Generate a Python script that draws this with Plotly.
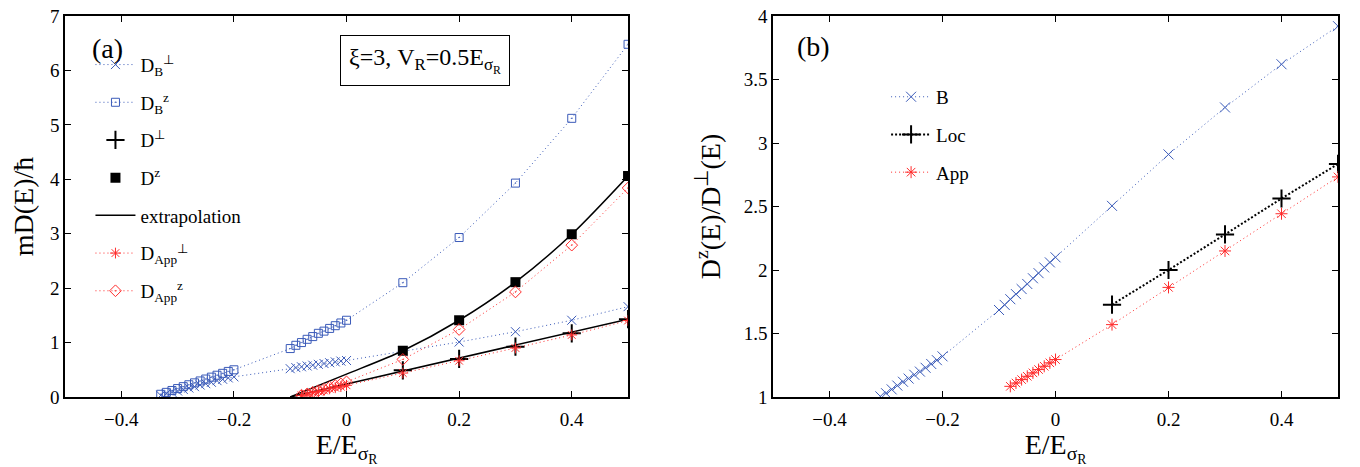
import plotly.graph_objects as go

# ---------------- data: panel (a) ----------------
E_B_left = [-0.33, -0.32, -0.31, -0.30, -0.29, -0.28, -0.27, -0.26, -0.25, -0.24, -0.23, -0.22, -0.21, -0.20]
E_B_mid = [-0.10, -0.09, -0.08, -0.07, -0.06, -0.05, -0.04, -0.03, -0.02, -0.01, 0.00]
E_coarse = [0.1, 0.2, 0.3, 0.4, 0.5]
E_B = E_B_left + E_B_mid + E_coarse

DB_perp = [0.03, 0.06, 0.085, 0.11, 0.14, 0.165, 0.19, 0.22, 0.245, 0.27, 0.30, 0.325, 0.35, 0.37,
           0.52, 0.54, 0.555, 0.57, 0.585, 0.60, 0.615, 0.63, 0.645, 0.66, 0.67,
           0.84, 1.01, 1.20, 1.41, 1.66]
DB_z = [0.05, 0.085, 0.12, 0.155, 0.19, 0.225, 0.26, 0.295, 0.33, 0.365, 0.40, 0.435, 0.47, 0.50,
        0.89, 0.95, 1.00, 1.06, 1.11, 1.17, 1.21, 1.26, 1.31, 1.36, 1.41,
        2.10, 2.93, 3.93, 5.12, 6.48]

D_perp = [0.49, 0.70, 0.925, 1.17, 1.43]
D_z = [0.85, 1.41, 2.11, 2.99, 4.06]

E_extrap = [-0.10, 0.0, 0.1, 0.2, 0.3, 0.4, 0.5]
extrap_z = [0.0, 0.42, 0.85, 1.41, 2.11, 2.99, 4.06]
extrap_perp = [0.0, 0.24, 0.48, 0.715, 0.95, 1.19, 1.43]

E_App_fine = [-0.08, -0.07, -0.06, -0.05, -0.04, -0.03, -0.02, -0.01, 0.00]
E_App = E_App_fine + E_coarse
DApp_perp = [0.03, 0.05, 0.08, 0.10, 0.12, 0.15, 0.17, 0.19, 0.215,
             0.44, 0.666, 0.90, 1.14, 1.405]
DApp_z = [0.033, 0.056, 0.087, 0.116, 0.143, 0.182, 0.211, 0.241, 0.278,
          0.69, 1.24, 1.93, 2.79, 3.84]

# ---------------- data: panel (b) ----------------
E_ratioB = [-0.31, -0.30, -0.29, -0.28, -0.27, -0.26, -0.25, -0.24, -0.23, -0.22, -0.21, -0.20,
            -0.10, -0.09, -0.08, -0.07, -0.06, -0.05, -0.04, -0.03, -0.02, -0.01, 0.00,
            0.1, 0.2, 0.3, 0.4, 0.5]
ratio_B = [1.005, 1.03, 1.06, 1.09, 1.12, 1.145, 1.175, 1.20, 1.23, 1.26, 1.29, 1.32,
           1.685, 1.725, 1.77, 1.81, 1.85, 1.89, 1.935, 1.975, 2.02, 2.06, 2.10,
           2.505, 2.91, 3.28, 3.62, 3.92]
ratio_Loc = [1.727, 2.00, 2.28, 2.563, 2.835]
ratio_App = [1.084, 1.11, 1.137, 1.163, 1.19, 1.216, 1.242, 1.269, 1.295,
             1.57, 1.863, 2.15, 2.443, 2.733]

x_ticks = [-0.4, -0.2, 0, 0.2, 0.4]
x_ticklabels = ["\u22120.4", "\u22120.2", "0", "0.2", "0.4"]
ya_ticks = [0, 1, 2, 3, 4, 5, 6, 7]
yb_ticks = [1, 1.5, 2, 2.5, 3, 3.5, 4]

BLUE = "#3b5bb9"
RED = "#ff2b2b"
FONT = "Liberation Serif, Times New Roman, serif"
DOT = "1px,3px"

fig = go.Figure()

# panel (a)
fig.add_trace(go.Scatter(x=E_B, y=DB_perp, mode="lines+markers", name="D<sub>B</sub><sup>\u22a5</sup>",
                         line=dict(color=BLUE, width=1, dash=DOT),
                         marker=dict(symbol="x-thin-open", size=9, color=BLUE, line=dict(width=1, color=BLUE)),
                         legend="legend", legendgroup="a1"))
fig.add_trace(go.Scatter(x=E_B, y=DB_z, mode="lines+markers", name="D<sub>B</sub><sup>z</sup>",
                         line=dict(color=BLUE, width=1, dash=DOT),
                         marker=dict(symbol="square-open-dot", size=8, color=BLUE, line=dict(width=1, color=BLUE)),
                         legend="legend", legendgroup="a2"))
fig.add_trace(go.Scatter(x=E_coarse, y=D_perp, mode="markers", name="D<sup>\u22a5</sup>",
                         marker=dict(symbol="cross-thin-open", size=13, color="black", line=dict(width=2, color="black")),
                         legend="legend", legendgroup="a3"))
fig.add_trace(go.Scatter(x=E_coarse, y=D_z, mode="markers", name="D<sup>z</sup>",
                         marker=dict(symbol="square", size=10, color="black"),
                         legend="legend", legendgroup="a4"))
fig.add_trace(go.Scatter(x=E_extrap, y=extrap_z, mode="lines", name="extrapolation",
                         line=dict(color="black", width=1.5, shape="spline", smoothing=0.8),
                         legend="legend", legendgroup="a5"))
fig.add_trace(go.Scatter(x=E_extrap, y=extrap_perp, mode="lines", name="extrapolation",
                         line=dict(color="black", width=1.5), showlegend=False,
                         legend="legend", legendgroup="a5"))
fig.add_trace(go.Scatter(x=E_App, y=DApp_perp, mode="lines+markers", name="D<sub>App</sub><sup>\u22a5</sup>",
                         line=dict(color=RED, width=1, dash=DOT),
                         marker=dict(symbol="asterisk-open", size=9, color=RED, line=dict(width=1, color=RED)),
                         legend="legend", legendgroup="a6"))
fig.add_trace(go.Scatter(x=E_App, y=DApp_z, mode="lines+markers", name="D<sub>App</sub><sup>z</sup>",
                         line=dict(color=RED, width=1, dash=DOT),
                         marker=dict(symbol="diamond-open-dot", size=9, color=RED, line=dict(width=1, color=RED)),
                         legend="legend", legendgroup="a7"))

# panel (b)
fig.add_trace(go.Scatter(x=E_ratioB, y=ratio_B, mode="lines+markers", name="B",
                         line=dict(color=BLUE, width=1, dash=DOT),
                         marker=dict(symbol="x-thin-open", size=10, color=BLUE, line=dict(width=1, color=BLUE)),
                         xaxis="x2", yaxis="y2", legend="legend2", legendgroup="b1"))
fig.add_trace(go.Scatter(x=E_coarse, y=ratio_Loc, mode="lines+markers", name="Loc",
                         line=dict(color="black", width=2, dash="2px,2px"),
                         marker=dict(symbol="cross-thin-open", size=13, color="black", line=dict(width=2, color="black")),
                         xaxis="x2", yaxis="y2", legend="legend2", legendgroup="b2"))
fig.add_trace(go.Scatter(x=E_App_fine + E_coarse, y=ratio_App, mode="lines+markers", name="App",
                         line=dict(color=RED, width=1, dash=DOT),
                         marker=dict(symbol="asterisk-open", size=10, color=RED, line=dict(width=1, color=RED)),
                         xaxis="x2", yaxis="y2", legend="legend2", legendgroup="b3"))

axis_common = dict(showline=True, linecolor="black", linewidth=1.5, mirror="allticks",
                   ticks="inside", ticklen=6, tickwidth=1, tickcolor="black",
                   showgrid=False, zeroline=False, automargin=False,
                   ticklabeloverflow="allow",
                   tickfont=dict(family=FONT, size=19, color="black"))

xtitle = dict(text="E/E<sub>\u03c3<sub>R</sub></sub>", font=dict(family=FONT, size=28, color="black"))

# page body has an 8px default margin: the figure is sized so that the plot sits where the reference's does
fig.update_layout(
    width=1352, height=459,
    margin=dict(l=57, r=22, t=8, b=70, autoexpand=False),
    paper_bgcolor="white", plot_bgcolor="white",
    font=dict(family=FONT, color="black"),
    xaxis=dict(domain=[0, 0.4423], range=[-0.5, 0.5], tickvals=x_ticks, ticktext=x_ticklabels,
               title=xtitle, anchor="y", ticklabelstandoff=4, **axis_common),
    yaxis=dict(range=[0, 7], tickvals=ya_ticks, anchor="x",
               title=dict(text="mD(E)/\u0127", font=dict(family=FONT, size=28, color="black")),
               **axis_common),
    xaxis2=dict(domain=[0.5562, 1], range=[-0.5, 0.5], tickvals=x_ticks, ticktext=x_ticklabels,
                title=xtitle, anchor="y2", ticklabelstandoff=4, **axis_common),
    yaxis2=dict(range=[1, 4], tickvals=yb_ticks, anchor="x2",
                title=dict(text="D<sup>z</sup>(E)/D<sup>\u22a5</sup>(E)", font=dict(family=FONT, size=28, color="black")),
                **axis_common),
    legend=dict(x=0.02, y=0.922, xanchor="left", yanchor="top", bgcolor="rgba(0,0,0,0)",
                font=dict(family=FONT, size=19, color="black"), traceorder="grouped",
                tracegroupgap=10, itemwidth=40),
    legend2=dict(x=0.645, y=0.8375, xanchor="left", yanchor="top", bgcolor="rgba(0,0,0,0)",
                 font=dict(family=FONT, size=19, color="black"), traceorder="grouped",
                 tracegroupgap=10, itemwidth=40),
    showlegend=True,
)

fig.add_annotation(text="(a)", xref="paper", yref="paper", x=0.033, y=0.916, showarrow=False,
                   xanchor="center", yanchor="middle", font=dict(family=FONT, size=28, color="black"))
fig.add_annotation(text="(b)", xref="paper", yref="paper", x=0.588, y=0.919, showarrow=False,
                   xanchor="center", yanchor="middle", font=dict(family=FONT, size=28, color="black"))
fig.add_annotation(text="\u03be=3, V<sub>R</sub>=0.5E<sub>\u03c3<sub>R</sub></sub>", xref="paper", yref="paper",
                   x=0.2828, y=0.882, showarrow=False, xanchor="center", yanchor="middle",
                   font=dict(family=FONT, size=24, color="black"),
                   bordercolor="black", borderwidth=1, borderpad=8, bgcolor="white")

fig.write_html("out.html")
